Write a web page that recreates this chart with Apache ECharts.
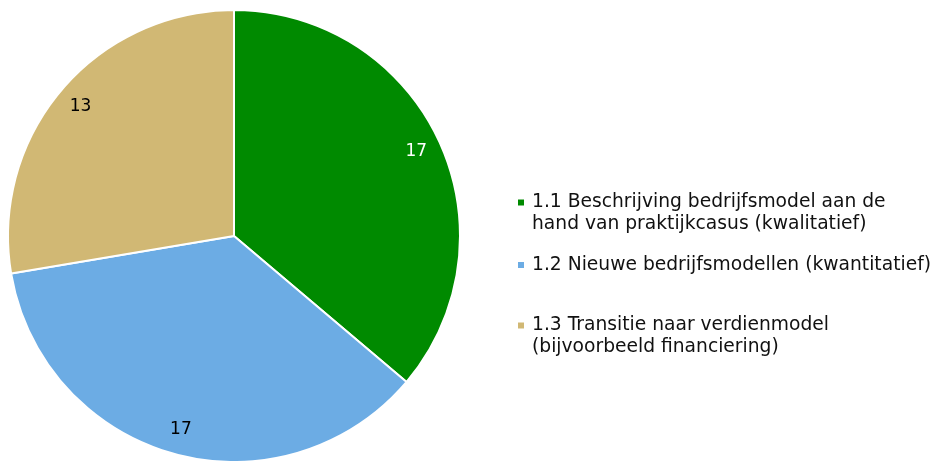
<!DOCTYPE html>
<html><head><meta charset="utf-8">
<script src="https://cdn.jsdelivr.net/npm/echarts@6/dist/echarts.min.js"></script>
<style>html,body{margin:0;padding:0;background:#fff}#c{width:935px;height:461px}</style>
</head><body><div id="c"></div>
<script>
const categories = [
  "1.1 Beschrijving bedrijfsmodel aan de\nhand van praktijkcasus (kwalitatief)",
  "1.2 Nieuwe bedrijfsmodellen (kwantitatief)",
  "1.3 Transitie naar verdienmodel\n(bijvoorbeeld financiering)"
];
const values = [17, 17, 13];
const colors = ["#008A00", "#6CACE4", "#D1B874"];
const labelColors = ["#ffffff", "#000000", "#000000"];

const chart = echarts.init(document.getElementById('c'), null, {renderer: 'canvas'});
const FONT = 'DejaVu Sans';
const center = [234, 236];

const mainData = categories.map((n, i) => ({name: n, value: values[i], itemStyle: {color: colors[i]}}));
const labelData = categories.map((n, i) => ({name: n, value: values[i],
  label: {color: labelColors[i]}}));

const icon2 = 'path://M0,0h0M0,7.5h6v6h-6zM9,42h0';
const icon1 = 'path://M0,0h0M0,7.5h6v6h-6zM9,21h0';
const legendTops = [191, 254, 314];
const legends = categories.map((n, i) => {
  const two = n.indexOf('\n') >= 0;
  return {
    data: [n], left: 518, top: legendTops[i], orient: 'vertical', padding: 0,
    icon: two ? icon2 : icon1, itemWidth: 9, itemHeight: two ? 42 : 21,
    itemStyle: {borderWidth: 0},
    selectedMode: false,
    textStyle: {fontFamily: FONT, fontSize: 18.7, color: '#111', lineHeight: 22}
  };
});

chart.setOption({
  animation: false,
  legend: legends,
  series: [
    {
      type: 'pie', center: center, radius: [0, 226], startAngle: 90, clockwise: true,
      itemStyle: {borderColor: '#fff', borderWidth: 2},
      label: {show: false}, labelLine: {show: false},
      emphasis: {disabled: true}, silent: true,
      data: mainData
    },
    {
      type: 'pie', center: center, radius: [170, 226], startAngle: 90, clockwise: true,
      itemStyle: {color: 'transparent', borderWidth: 0},
      label: {show: true, position: 'inside', formatter: '{c}', fontFamily: FONT, fontSize: 17},
      labelLine: {show: false},
      emphasis: {disabled: true}, silent: true, legendHoverLink: false,
      data: labelData
    }
  ]
});
</script></body></html>
